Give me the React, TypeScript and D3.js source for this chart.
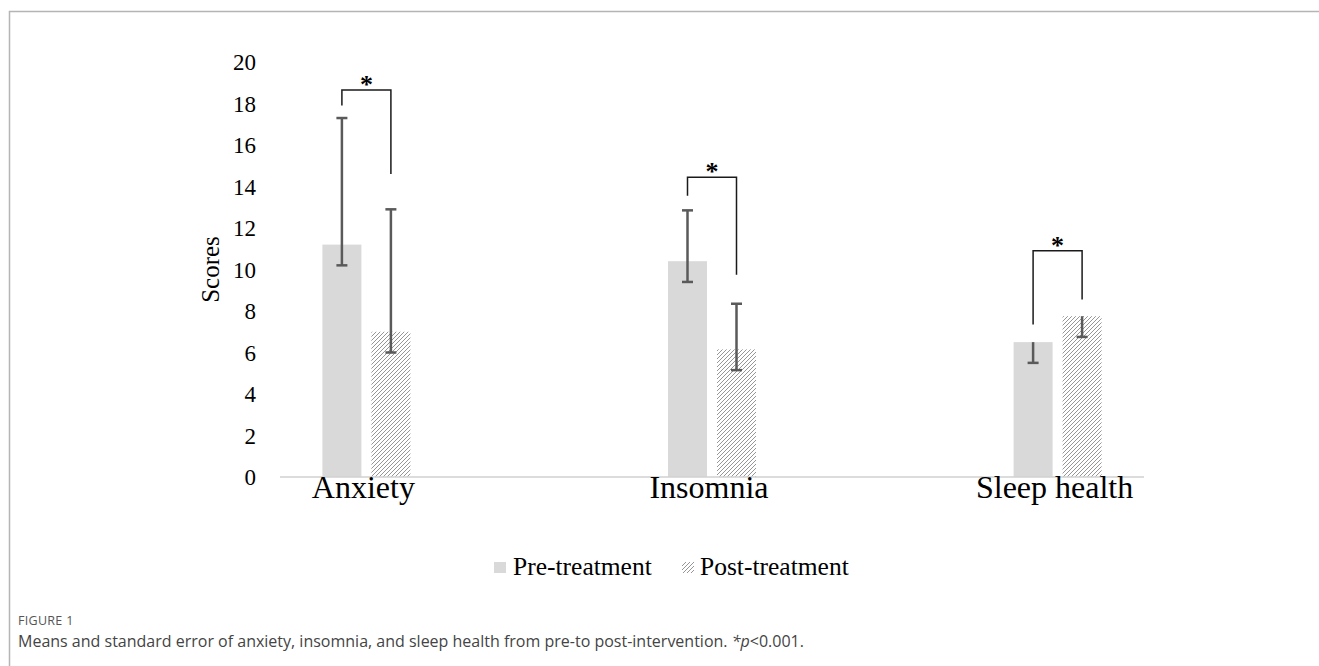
import React from "react";
import * as d3 from "d3";

const categories = ["Anxiety", "Insomnia", "Sleep health"];
const preMeans = [11.2, 10.4, 6.5];
const postMeans = [7.0, 6.15, 7.75];
const preLow = [10.2, 9.4, 5.5];
const preHigh = [17.3, 12.85, 6.5];
const postLow = [6.0, 5.15, 6.75];
const postHigh = [12.9, 8.35, 7.75];
const bracketTop = [18.65, 14.45, 10.9];
const bracketLeftEnd = [17.9, 13.55, 7.35];
const bracketRightEnd = [14.6, 9.75, 8.55];
const yTicks = [0, 2, 4, 6, 8, 10, 12, 14, 16, 18, 20];
const legendLabels = ["Pre-treatment", "Post-treatment"];
const captionTitle = "FIGURE 1";
const captionText = "Means and standard error of anxiety, insomnia, and sleep health from pre-to post-intervention. ";

const W = 1319;
const H = 666;
const serif = "'Liberation Serif', 'Times New Roman', serif";
const sans = "'Open Sans', 'Noto Sans', sans-serif";

export default function App() {
  const x = d3.scalePoint<string>().domain(categories).range([280, 1144]).padding(0.25);
  const y = d3.scaleLinear().domain([0, 20]).range([477, 62]);
  const barW = 39;
  const gap = 5;
  const capW = 11;
  const errColor = "#5a5a5a";

  const preX = (c: string) => (x(c) as number) - gap - barW;
  const postX = (c: string) => (x(c) as number) + gap;

  const errBar = (cx: number, mean: number, lo: number, hi: number, key: string) => (
    <g key={key} stroke={errColor} strokeWidth={2.5}>
      <line x1={cx} x2={cx} y1={y(hi)} y2={y(lo)} />
      <line x1={cx - capW / 2} x2={cx + capW / 2} y1={y(lo)} y2={y(lo)} />
      {hi > mean && <line x1={cx - capW / 2} x2={cx + capW / 2} y1={y(hi)} y2={y(hi)} />}
    </g>
  );

  return (
    <div style={{ position: "fixed", left: 0, top: 0, width: W, height: H, background: "#fff" }}>
      <svg width={W} height={H} style={{ display: "block" }}>
        <defs>
          <pattern id="hatch" patternUnits="userSpaceOnUse" width={4} height={4}>
            <path d="M-1,1 l2,-2 M0,4 l4,-4 M3,5 l2,-2" stroke="#8a8a8a" strokeWidth={0.9} />
          </pattern>
        </defs>
        <rect x={0} y={0} width={W} height={H} fill="#fff" />
        {/* frame */}
        <path d={`M9.5,${H} V11.5 H${W}`} fill="none" stroke="#b5b5b5" strokeWidth={1.5} />

        {/* y tick labels */}
        {yTicks.map((t) => (
          <text key={t} x={256} y={y(t)} dy="0.35em" textAnchor="end" fontFamily={serif} fontSize={23} fill="#000">
            {t}
          </text>
        ))}
        <text
          transform={`translate(210, ${y(10)}) rotate(-90)`}
          textAnchor="middle"
          dy="0.35em"
          fontFamily={serif}
          fontSize={25}
          fill="#000"
        >
          Scores
        </text>

        {/* bars */}
        {categories.map((c, i) => (
          <g key={c}>
            <rect x={preX(c)} y={y(preMeans[i])} width={barW} height={y(0) - y(preMeans[i])} fill="#d9d9d9" />
            <rect x={postX(c)} y={y(postMeans[i])} width={barW} height={y(0) - y(postMeans[i])} fill="url(#hatch)" />
          </g>
        ))}

        {/* baseline */}
        <line x1={280} x2={1144} y1={y(0)} y2={y(0)} stroke="#d0d0d0" strokeWidth={1.5} />

        {/* error bars */}
        {categories.map((c, i) => (
          <g key={c + "-err"}>
            {errBar(preX(c) + barW / 2, preMeans[i], preLow[i], preHigh[i], c + "pre")}
            {errBar(postX(c) + barW / 2, postMeans[i], postLow[i], postHigh[i], c + "post")}
          </g>
        ))}

        {/* significance brackets */}
        {categories.map((c, i) => {
          const lx = preX(c) + barW / 2;
          const rx = postX(c) + barW / 2;
          return (
            <g key={c + "-br"}>
              <path
                d={`M${lx},${y(bracketLeftEnd[i])} V${y(bracketTop[i])} H${rx} V${y(bracketRightEnd[i])}`}
                fill="none"
                stroke="#1a1a1a"
                strokeWidth={1.5}
              />
              <text x={(lx + rx) / 2} y={y(bracketTop[i]) + 3} textAnchor="middle" fontFamily={serif} fontWeight="bold" fontSize={26} fill="#000">
                *
              </text>
            </g>
          );
        })}

        {/* category labels */}
        {categories.map((c) => (
          <text key={c + "-lab"} x={(x(c) as number) - 3} y={498} textAnchor="middle" fontFamily={serif} fontSize={32} fill="#000">
            {c}
          </text>
        ))}

        {/* legend */}
        <rect x={494} y={562} width={12} height={11} fill="#d9d9d9" />
        <text x={513} y={575} fontFamily={serif} fontSize={25.5} fill="#000">{legendLabels[0]}</text>
        <rect x={682} y={562} width={12} height={11} fill="url(#hatch)" />
        <text x={700} y={575} fontFamily={serif} fontSize={25.5} fill="#000">{legendLabels[1]}</text>

        {/* caption */}
        <text x={18} y={625} fontFamily={sans} fontSize={12.5} fill="#555" letterSpacing={0.3}>{captionTitle}</text>
        <text x={18} y={647} fontFamily={sans} fontSize={16} fill="#444">
          {captionText}
          <tspan fontStyle="italic">*p</tspan>
          {"<0.001."}
        </text>
      </svg>
    </div>
  );
}
